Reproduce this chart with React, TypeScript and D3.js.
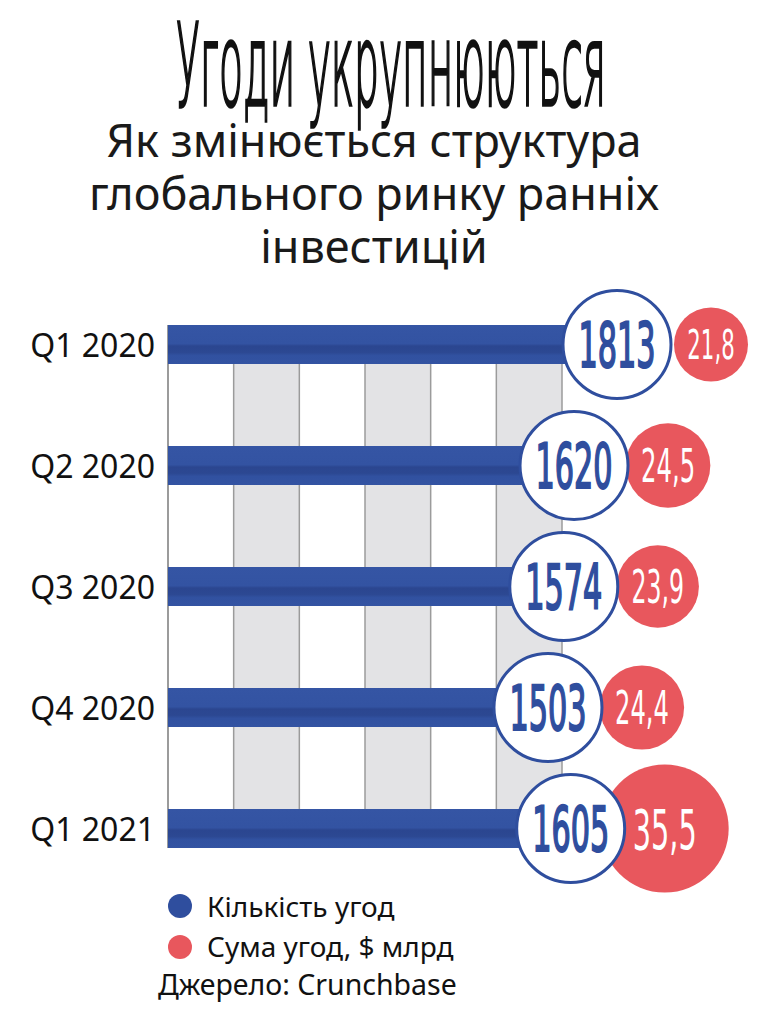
import { useLayoutEffect, useRef, useState } from "react";
import * as d3 from "d3";

const quarters = ["Q1 2020", "Q2 2020", "Q3 2020", "Q4 2020", "Q1 2021"];
const dealCounts = [1813, 1620, 1574, 1503, 1605];
const dealSums = [21.8, 24.5, 23.9, 24.4, 35.5];
const sumLabels = ["21,8", "24,5", "23,9", "24,4", "35,5"];

const title = "Угоди укрупнюються";
const subtitle = ["Як змінюється структура", "глобального ринку ранніх", "інвестицій"];
const legendItems = ["Кількість угод", "Сума угод, $ млрд"];
const source = "Джерело: Crunchbase";

const W = 764;
const H = 1019;

const BLUE = "#2f4e9e";
const RED = "#e8575d";
const GRID_FILL = "#e3e3e5";
const GRID_LINE = "#9b9b9b";

const sans = "'Noto Sans', 'Open Sans', sans-serif";
const narrow = "'Liberation Sans Narrow', 'DejaVu Sans Condensed', 'DejaVu Sans', sans-serif";

// no condensed display font is installed, so squeeze a normal one to the wanted width
function CondensedText({ x, y, width, children, ...rest }: any) {
    const ref = useRef<SVGTextElement>(null);
    const [sx, setSx] = useState(1);

    useLayoutEffect(() => {
        if (ref.current) {
            const natural = ref.current.getComputedTextLength();
            if (natural > 0) setSx(width / natural);
        }
    }, [width, children]);

    return (
        <text ref={ref} transform={`translate(${x},${y}) scale(${sx},1)`}
            textAnchor="middle" {...rest}>
            {children}
        </text>
    );
}

export default function App() {
    const axisX = 168;
    const gridRight = 562;
    const barH = 39;
    const blueR = 54;
    const redOffset = 94;

    const y = d3.scalePoint<string>()
        .domain(quarters)
        .range([344.5, 828.5]);

    // counts do not start at zero: the circles sit on a short stretch of the scale
    const x = d3.scaleLinear()
        .domain([1500, 1813])
        .range([547.3, 617]);

    const r = d3.scaleLinear()
        .domain([21.8, 35.5])
        .range([37, 64]);

    const gridTop = y(quarters[0])! - barH / 2;
    const gridBottom = y(quarters[quarters.length - 1])! + barH / 2;

    const cols = d3.range(6);
    const colX = d3.scaleLinear().domain([0, 6]).range([axisX, gridRight]);

    return (
        <svg width={W} height={H} viewBox={`0 0 ${W} ${H}`}
            style={{ position: "absolute", left: 0, top: 0, background: "#fff" }}>
            <defs>
                <linearGradient id="barGrad" x1="0" y1="0" x2="0" y2="1">
                    <stop offset="0%" stopColor="#3555a4" />
                    <stop offset="48%" stopColor="#3353a2" />
                    <stop offset="54%" stopColor="#2b4690" />
                    <stop offset="70%" stopColor="#2c4892" />
                    <stop offset="78%" stopColor="#3151a0" />
                    <stop offset="100%" stopColor="#3353a2" />
                </linearGradient>
            </defs>

            <CondensedText x={391} y={105} width={430} fontFamily="'DejaVu Sans', sans-serif"
                fontWeight={200} fontSize={114} fill="#111" stroke="#111" strokeWidth={3.5}>
                {title}
            </CondensedText>

            <text textAnchor="middle" fontFamily={sans} fontSize={45} fill="#1a1a1a">
                {subtitle.map((line, i) => (
                    <tspan key={i} x={374} y={157 + i * 53}>{line}</tspan>
                ))}
            </text>

            {/* grid columns */}
            {cols.map(c => (
                <rect key={c} x={colX(c)} y={gridTop} width={colX(c + 1) - colX(c)}
                    height={gridBottom - gridTop} fill={c % 2 === 1 ? GRID_FILL : "#fff"} />
            ))}
            {d3.range(7).map(c => (
                <line key={c} x1={colX(c)} x2={colX(c)} y1={gridTop} y2={gridBottom}
                    stroke={GRID_LINE} strokeWidth={c === 0 ? 2 : 1.5} />
            ))}

            {quarters.map((q, i) => {
                const cy = y(q)!;
                const cx = x(dealCounts[i]);
                const rr = r(dealSums[i]);
                const rcx = cx + redOffset;
                const cap = Math.min(rr * 0.8, 40);
                return (
                    <g key={q}>
                        <text x={155} y={cy + 12} textAnchor="end" fontFamily={sans}
                            fontSize={32} fill="#111">{q}</text>
                        <rect x={axisX} y={cy - barH / 2} width={cx - axisX} height={barH}
                            fill="url(#barGrad)" />
                        <circle cx={rcx} cy={cy} r={rr} fill={RED} />
                        <CondensedText x={rcx} y={cy + cap / 2} width={cap * 1.6} fontFamily={narrow}
                            fontSize={cap / 0.72} fill="#fff">
                            {sumLabels[i]}
                        </CondensedText>
                        <circle cx={cx} cy={cy} r={blueR} fill="#fff" stroke={BLUE} strokeWidth={3} />
                        <CondensedText x={cx} y={cy + 22.5} width={77} fontFamily={narrow}
                            fontSize={62} fill={BLUE} stroke={BLUE} strokeWidth={2}>
                            {dealCounts[i]}
                        </CondensedText>
                    </g>
                );
            })}

            {legendItems.map((item, i) => (
                <g key={item}>
                    <circle cx={180} cy={906 + i * 41} r={12} fill={i === 0 ? BLUE : RED} />
                    <text x={207} y={917 + i * 40} fontFamily={sans} fontSize={28} fill="#111">
                        {item}
                    </text>
                </g>
            ))}
            <text x={158} y={995} fontFamily={sans} fontSize={28.5} fill="#111">{source}</text>
        </svg>
    );
}
